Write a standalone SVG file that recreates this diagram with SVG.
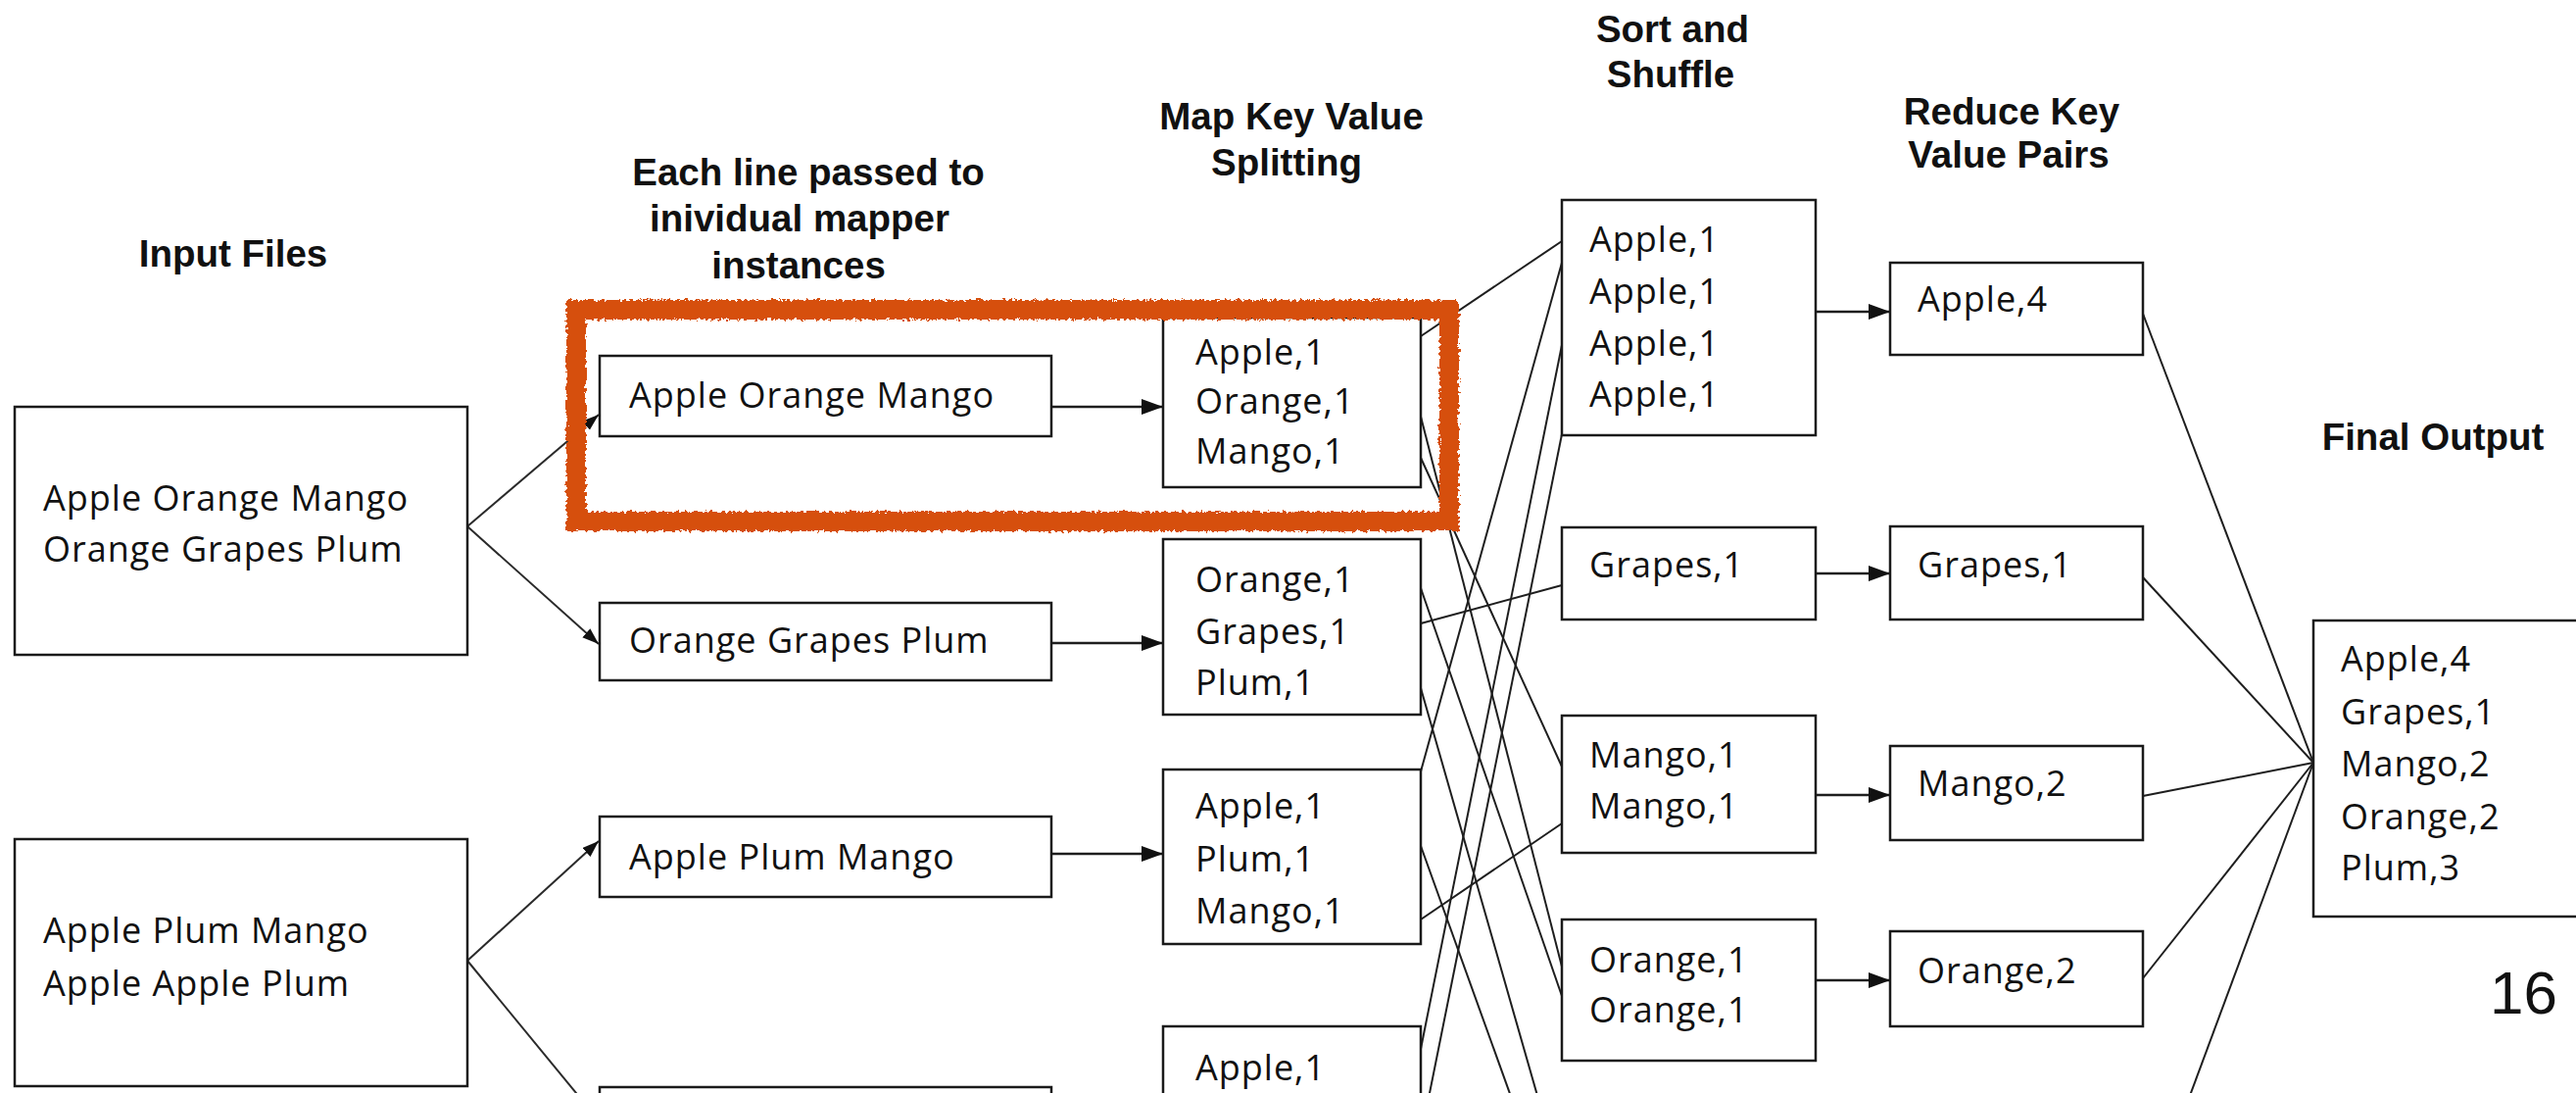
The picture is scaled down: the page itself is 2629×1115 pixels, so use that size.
<svg xmlns="http://www.w3.org/2000/svg" width="2629" height="1115" viewBox="0 0 2629 1115">
<defs>
<style>
.box{fill:#fff;stroke:#1a1a1a;stroke-width:2.5}
.lbl{font-family:"Open Sans","Liberation Sans",sans-serif;font-size:36px;letter-spacing:1px;fill:#111}
.hdr{font-family:"Liberation Sans",Arial,sans-serif;font-size:38.5px;font-weight:bold;fill:#111;text-anchor:middle}
.ln{stroke:#1e1e1e;stroke-width:2;fill:none}
.arr{stroke:#1e1e1e;stroke-width:2.5;fill:none;marker-end:url(#ah)}
.arrs{stroke:#2a2a2a;stroke-width:2;fill:none;marker-end:url(#ahs)}
</style>
<marker id="ah" markerUnits="userSpaceOnUse" markerWidth="24" markerHeight="18" refX="22" refY="8" orient="auto"><path d="M0,0 L22,8 L0,16 z" fill="#111"/></marker>
<marker id="ahs" markerUnits="userSpaceOnUse" markerWidth="20" markerHeight="14" refX="17" refY="6" orient="auto"><path d="M0,0 L17,6 L0,12 z" fill="#111"/></marker>
<filter id="rough" x="-5%" y="-10%" width="110%" height="120%"><feTurbulence type="fractalNoise" baseFrequency="0.3" numOctaves="2" seed="4" result="noise"/><feDisplacementMap in="SourceGraphic" in2="noise" scale="7" xChannelSelector="R" yChannelSelector="G"/></filter>
</defs>
<rect width="2629" height="1115" fill="#fff"/>

<g id="headers">
<text class="hdr" x="238" y="272">Input Files</text>
<text class="hdr" x="825" y="189">Each line passed to</text>
<text class="hdr" x="816" y="236">inividual mapper</text>
<text class="hdr" x="815" y="284">instances</text>
<text class="hdr" x="1318" y="132">Map Key Value</text>
<text class="hdr" x="1313" y="179">Splitting</text>
<text class="hdr" x="1707" y="43">Sort and</text>
<text class="hdr" x="1705" y="89">Shuffle</text>
<text class="hdr" x="2053" y="127">Reduce Key</text>
<text class="hdr" x="2050" y="171">Value Pairs</text>
<text class="hdr" x="2483" y="459">Final Output</text>
</g>

<g id="connectors">
<line class="arrs" x1="477" y1="537" x2="611" y2="423"/>
<line class="arrs" x1="477" y1="537" x2="611" y2="657"/>
<line class="arrs" x1="477" y1="980" x2="611" y2="858"/>
<line class="arrs" x1="477" y1="980" x2="611" y2="1143"/>
<line class="arr" x1="1073" y1="415" x2="1187" y2="415"/>
<line class="arr" x1="1073" y1="656" x2="1187" y2="656"/>
<line class="arr" x1="1073" y1="871" x2="1187" y2="871"/>
<line class="ln" x1="1450" y1="343" x2="1594" y2="246"/>
<line class="ln" x1="1450" y1="787" x2="1594" y2="268"/>
<line class="ln" x1="1450" y1="1070" x2="1594" y2="352"/>
<line class="ln" x1="1450" y1="1160" x2="1594" y2="443"/>
<line class="ln" x1="1450" y1="636" x2="1594" y2="597"/>
<line class="ln" x1="1450" y1="467" x2="1594" y2="782"/>
<line class="ln" x1="1450" y1="938" x2="1594" y2="840"/>
<line class="ln" x1="1450" y1="425" x2="1594" y2="986"/>
<line class="ln" x1="1450" y1="600" x2="1594" y2="1016"/>
<line class="ln" x1="1450" y1="702" x2="1594" y2="1205"/>
<line class="ln" x1="1450" y1="863" x2="1594" y2="1263"/>
<line class="arr" x1="1853" y1="318" x2="1929" y2="318"/>
<line class="arr" x1="1853" y1="585" x2="1929" y2="585"/>
<line class="arr" x1="1853" y1="811" x2="1929" y2="811"/>
<line class="arr" x1="1853" y1="1000" x2="1929" y2="1000"/>
<line class="ln" x1="2187" y1="320" x2="2361" y2="778"/>
<line class="ln" x1="2187" y1="589" x2="2361" y2="778"/>
<line class="ln" x1="2187" y1="812" x2="2361" y2="778"/>
<line class="ln" x1="2187" y1="998" x2="2361" y2="778"/>
<line class="ln" x1="2187" y1="1247" x2="2361" y2="778"/>
</g>

<g id="input1"><rect class="box" x="15" y="415" width="462" height="253"/>
<text class="lbl" x="44" y="521">Apple Orange Mango</text>
<text class="lbl" x="44" y="573">Orange Grapes Plum</text></g>
<g id="input2"><rect class="box" x="15" y="856" width="462" height="252"/>
<text class="lbl" x="44" y="962">Apple Plum Mango</text>
<text class="lbl" x="44" y="1016">Apple Apple Plum</text></g>

<g id="mapper1"><rect class="box" x="612" y="363" width="461" height="82"/><text class="lbl" x="642" y="416">Apple Orange Mango</text></g>
<g id="mapper2"><rect class="box" x="612" y="615" width="461" height="79"/><text class="lbl" x="642" y="666">Orange Grapes Plum</text></g>
<g id="mapper3"><rect class="box" x="612" y="833" width="461" height="82"/><text class="lbl" x="642" y="887">Apple Plum Mango</text></g>
<g id="mapper4"><rect class="box" x="612" y="1109" width="461" height="60"/></g>

<g id="map1"><rect class="box" x="1187" y="324" width="263" height="173"/>
<text class="lbl" x="1220" y="372">Apple,1</text><text class="lbl" x="1220" y="422">Orange,1</text><text class="lbl" x="1220" y="473">Mango,1</text></g>
<g id="map2"><rect class="box" x="1187" y="550" width="263" height="179"/>
<text class="lbl" x="1220" y="604">Orange,1</text><text class="lbl" x="1220" y="657">Grapes,1</text><text class="lbl" x="1220" y="709">Plum,1</text></g>
<g id="map3"><rect class="box" x="1187" y="785" width="263" height="178"/>
<text class="lbl" x="1220" y="835">Apple,1</text><text class="lbl" x="1220" y="889">Plum,1</text><text class="lbl" x="1220" y="942">Mango,1</text></g>
<g id="map4"><rect class="box" x="1187" y="1047" width="263" height="180"/>
<text class="lbl" x="1220" y="1102">Apple,1</text></g>

<g id="sort1"><rect class="box" x="1594" y="204" width="259" height="240"/>
<text class="lbl" x="1622" y="257">Apple,1</text><text class="lbl" x="1622" y="310">Apple,1</text><text class="lbl" x="1622" y="363">Apple,1</text><text class="lbl" x="1622" y="415">Apple,1</text></g>
<g id="sort2"><rect class="box" x="1594" y="538" width="259" height="94"/><text class="lbl" x="1622" y="589">Grapes,1</text></g>
<g id="sort3"><rect class="box" x="1594" y="730" width="259" height="140"/>
<text class="lbl" x="1622" y="783">Mango,1</text><text class="lbl" x="1622" y="835">Mango,1</text></g>
<g id="sort4"><rect class="box" x="1594" y="938" width="259" height="144"/>
<text class="lbl" x="1622" y="992">Orange,1</text><text class="lbl" x="1622" y="1043">Orange,1</text></g>

<g id="reduce1"><rect class="box" x="1929" y="268" width="258" height="94"/><text class="lbl" x="1957" y="318">Apple,4</text></g>
<g id="reduce2"><rect class="box" x="1929" y="537" width="258" height="95"/><text class="lbl" x="1957" y="589">Grapes,1</text></g>
<g id="reduce3"><rect class="box" x="1929" y="761" width="258" height="96"/><text class="lbl" x="1957" y="812">Mango,2</text></g>
<g id="reduce4"><rect class="box" x="1929" y="950" width="258" height="97"/><text class="lbl" x="1957" y="1003">Orange,2</text></g>

<g id="final"><rect class="box" x="2361" y="633" width="400" height="302"/>
<text class="lbl" x="2389" y="685">Apple,4</text><text class="lbl" x="2389" y="739">Grapes,1</text><text class="lbl" x="2389" y="792">Mango,2</text><text class="lbl" x="2389" y="846">Orange,2</text><text class="lbl" x="2389" y="898">Plum,3</text></g>

<g id="highlight"><rect x="588" y="316" width="891" height="216" fill="none" stroke="#D6500C" stroke-width="20" filter="url(#rough)"/></g>

<text x="2541" y="1034" font-family="Liberation Sans,Arial,sans-serif" font-size="62" fill="#111">16</text>
</svg>
